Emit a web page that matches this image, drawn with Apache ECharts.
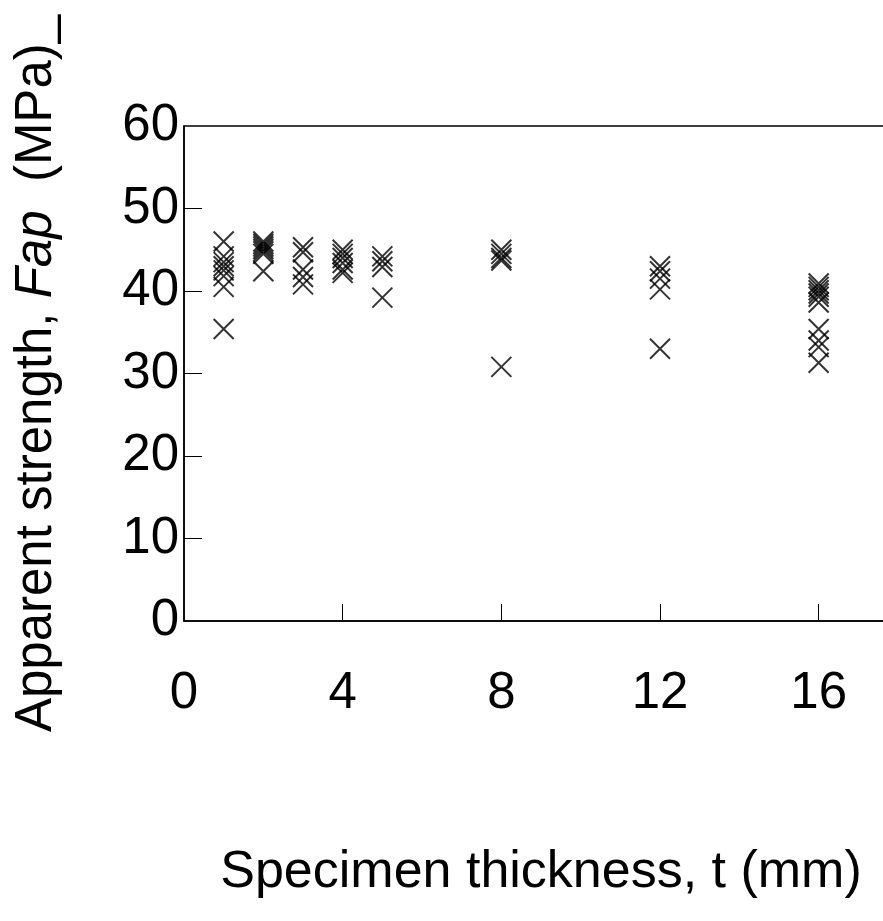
<!DOCTYPE html>
<html>
<head>
<meta charset="utf-8">
<script src="https://cdn.jsdelivr.net/npm/echarts@6/dist/echarts.min.js"></script>
<style>
  html, body { margin: 0; padding: 0; background: #fff; }
  #chart { width: 883px; height: 921px; }
</style>
</head>
<body>
<div id="chart"></div>
<script>
// Specimen thicknesses (mm) and the apparent strengths (MPa) measured at each
const thickness = [1, 2, 3, 4, 5, 8, 12, 16];
const strength_t1  = [46.0, 44.2, 43.5, 43.0, 42.5, 41.8, 40.5, 35.4];
const strength_t2  = [46.0, 45.7, 45.4, 45.1, 44.8, 44.5, 42.4];
const strength_t3  = [45.3, 44.7, 42.6, 41.7, 40.8];
const strength_t4  = [45.0, 44.5, 44.0, 43.4, 42.6, 42.2];
const strength_t5  = [44.2, 43.6, 42.9, 39.2];
const strength_t8  = [45.0, 44.5, 44.0, 43.7, 30.8];
const strength_t12 = [43.0, 42.4, 41.5, 40.2, 33.0];
const strength_t16 = [40.9, 40.5, 40.1, 39.7, 39.3, 38.6, 35.4, 34.0, 33.2, 31.3];
const strengthByThickness = [strength_t1, strength_t2, strength_t3, strength_t4,
  strength_t5, strength_t8, strength_t12, strength_t16];

const xTicks = [0, 4, 8, 12, 16];
const yTicks = [0, 10, 20, 30, 40, 50, 60];

const points = [];
thickness.forEach((t, i) => {
  strengthByThickness[i].forEach(v => points.push([t, v]));
});

const FONT = 'Liberation Sans, Arial, Helvetica, sans-serif';
const chart = echarts.init(document.getElementById('chart'), null, { renderer: 'canvas' });

chart.setOption({
  backgroundColor: '#fff',
  animation: false,
  // the frame runs past the right edge of the page (x axis ends at 18 mm)
  grid: {
    left: 184, top: 126, width: 714, height: 495,
    containLabel: false, outerBoundsMode: 'none',
    show: true, borderColor: '#000', borderWidth: 1.5, backgroundColor: 'transparent'
  },
  xAxis: {
    type: 'value',
    min: 0, max: 18, interval: 4,
    name: 'Specimen thickness, t (mm)',
    nameLocation: 'middle',
    nameGap: 226,
    nameTextStyle: { fontFamily: FONT, fontSize: 52, color: '#000' },
    axisLine: { show: true, lineStyle: { color: '#000', width: 1.5 } },
    axisTick: { show: true, inside: true, length: 17, lineStyle: { color: '#000', width: 1 },
      customValues: xTicks.filter(v => v > 0) },
    axisLabel: { fontFamily: FONT, fontSize: 51, color: '#000', margin: 47,
      customValues: xTicks },
    splitLine: { show: false }
  },
  yAxis: {
    type: 'value',
    min: 0, max: 60, interval: 10,
    name: 'Apparent strength, {it|Fap}  (MPa)_',
    nameLocation: 'middle',
    nameGap: 122,
    nameTextStyle: {
      fontFamily: FONT, fontSize: 51, color: '#000',
      rich: { it: { fontFamily: FONT, fontSize: 51, fontStyle: 'italic', color: '#000' } }
    },
    axisLine: { show: true, lineStyle: { color: '#000', width: 1.5 } },
    axisTick: { show: true, inside: true, length: 18, lineStyle: { color: '#000', width: 1 },
      customValues: yTicks.filter(v => v > 0 && v < 60) },
    axisLabel: { fontFamily: FONT, fontSize: 51, color: '#000', margin: 5,
      customValues: yTicks },
    splitLine: { show: false }
  },
  series: [{
    type: 'scatter',
    data: points,
    symbol: 'path://M0,0L20,20M20,0L0,20',
    symbolSize: 20,
    itemStyle: { color: 'transparent', borderColor: '#000', borderWidth: 2 }
  }]
});
</script>
</body>
</html>
